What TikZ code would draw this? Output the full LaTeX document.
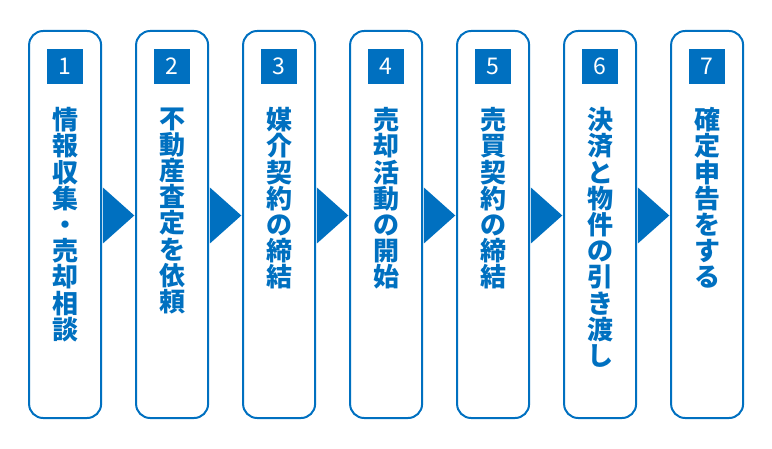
\documentclass[tikz,border=0pt]{standalone}
\usepackage{fontspec}
\usepackage{xcolor}
\usepackage{tikz}
\usetikzlibrary{positioning, calc}
\newfontfamily\jpfont{Noto Sans CJK JP}
\definecolor{flowblue}{HTML}{0070C0}

\begin{document}
\begin{tikzpicture}[x=1pt, y=1pt, node distance=107pt]
  \tikzstyle{stepbox} = [rectangle, draw=flowblue, line width=2pt, rounded corners=14pt, minimum width=72pt, minimum height=387pt, inner sep=0pt]
  \tikzstyle{numbox} = [rectangle, fill=flowblue, text=white, minimum size=35.5pt, inner sep=0pt, font=\jpfont\fontsize{23}{23}\selectfont]
  \tikzstyle{steptext} = [align=center, inner sep=0pt, text=flowblue, font=\jpfont\bfseries\fontsize{26}{26.2}\selectfont]
  \tikzstyle{tri} = [fill=flowblue]
  \useasboundingbox (0,0) rectangle (772,448);
  \node[stepbox] (S1) at (65.1,223.5) {};
  \node[stepbox, right of=S1] (S2) {};
  \node[stepbox, right of=S2] (S3) {};
  \node[stepbox, right of=S3] (S4) {};
  \node[stepbox, right of=S4] (S5) {};
  \node[stepbox, right of=S5] (S6) {};
  \node[stepbox, right of=S6] (S7) {};
  \node[numbox, below=18.7pt of S1.north] (N1) {1};
  \node[numbox, below=18.7pt of S2.north] (N2) {2};
  \node[numbox, below=18.7pt of S3.north] (N3) {3};
  \node[numbox, below=18.7pt of S4.north] (N4) {4};
  \node[numbox, below=18.7pt of S5.north] (N5) {5};
  \node[numbox, below=18.7pt of S6.north] (N6) {6};
  \node[numbox, below=18.7pt of S7.north] (N7) {7};
  \node[steptext, below=22.7pt of N1.south] (T1) {情\\報\\収\\集\\・\\売\\却\\相\\談};
  \node[steptext, below=22.7pt of N2.south] (T2) {不\\動\\産\\査\\定\\を\\依\\頼};
  \node[steptext, below=22.7pt of N3.south] (T3) {媒\\介\\契\\約\\の\\締\\結};
  \node[steptext, below=22.7pt of N4.south] (T4) {売\\却\\活\\動\\の\\開\\始};
  \node[steptext, below=22.7pt of N5.south] (T5) {売\\買\\契\\約\\の\\締\\結};
  \node[steptext, below=22.7pt of N6.south] (T6) {決\\済\\と\\物\\件\\の\\引\\き\\渡\\し};
  \node[steptext, below=22.7pt of N7.south] (T7) {確\\定\\申\\告\\を\\す\\る};
  \fill[tri] ($(S1.east)+(0.8pt,37pt)$) -- ($(S2.west)+(-0.8pt,9pt)$) -- ($(S1.east)+(0.8pt,-19pt)$) -- cycle;
  \fill[tri] ($(S2.east)+(0.8pt,37pt)$) -- ($(S3.west)+(-0.8pt,9pt)$) -- ($(S2.east)+(0.8pt,-19pt)$) -- cycle;
  \fill[tri] ($(S3.east)+(0.8pt,37pt)$) -- ($(S4.west)+(-0.8pt,9pt)$) -- ($(S3.east)+(0.8pt,-19pt)$) -- cycle;
  \fill[tri] ($(S4.east)+(0.8pt,37pt)$) -- ($(S5.west)+(-0.8pt,9pt)$) -- ($(S4.east)+(0.8pt,-19pt)$) -- cycle;
  \fill[tri] ($(S5.east)+(0.8pt,37pt)$) -- ($(S6.west)+(-0.8pt,9pt)$) -- ($(S5.east)+(0.8pt,-19pt)$) -- cycle;
  \fill[tri] ($(S6.east)+(0.8pt,37pt)$) -- ($(S7.west)+(-0.8pt,9pt)$) -- ($(S6.east)+(0.8pt,-19pt)$) -- cycle;
\end{tikzpicture}
\end{document}
